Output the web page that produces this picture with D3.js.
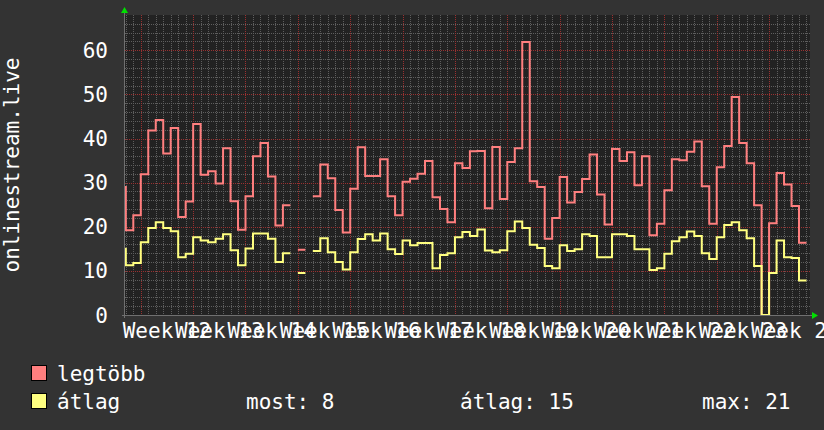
<!DOCTYPE html>
<html>
<head>
<meta charset="utf-8">
<script src="https://cdn.jsdelivr.net/npm/d3@7"></script>
<style>
  html, body { margin: 0; padding: 0; background: #333333; }
  svg { display: block; }
  text { font-family: "DejaVu Sans Mono", monospace; font-size: 21px; fill: #ffffff; }
</style>
</head>
<body>
<svg id="chart" width="824" height="430"></svg>
<script>
/*
** Data (one value per day, starting 3 days before the Monday of week 12)
*/
var firstDay = -3
  , legtobb = [29, 19.2, 22.6, 31.9, 41.8, 44.2, 36.6, 42.4, 22.2, 25.7,
      43.3, 31.8, 32.6, 29.8, 37.8, 25.8, 19.3, 26.9, 36.0, 39.0,
      31.4, 20.3, 24.9, NaN, 14.8, NaN, 26.9, 34.1, 31.0, 23.8,
      18.7, 28.6, 38.0, 31.5, 31.5, 35.3, 26.9, 22.6, 30.2, 30.9,
      32.0, 34.9, 26.7, 24.0, 21.0, 34.4, 33.3, 37.1, 37.2, 24.2,
      38.1, 26.3, 34.7, 37.8, 61.9, 30.3, 29.0, 17.3, 22.0, 31.3,
      25.5, 27.9, 30.8, 36.4, 27.3, 20.5, 37.6, 34.9, 36.9, 29.4,
      36.0, 18.1, 20.7, 28.3, 35.3, 35.1, 37.0, 39.3, 29.2, 20.7,
      33.5, 38.3, 49.4, 39.0, 34.4, 24.9, 0, 20.8, 32.2, 29.6,
      24.7, 16.4]
  , atlag = [15.0, 11.3, 11.8, 16.5, 19.7, 21.0, 19.7, 19.0, 13.1, 13.9,
      17.6, 16.9, 16.5, 17.3, 18.3, 14.7, 11.3, 15.1, 18.5, 18.5,
      17.3, 12.0, 14.0, NaN, 9.5, NaN, 14.5, 17.4, 14.2, 12.0,
      10.3, 14.2, 17.2, 18.3, 16.9, 18.5, 14.9, 13.8, 16.9, 15.8,
      16.3, 16.3, 10.6, 13.6, 14.0, 17.6, 18.8, 17.9, 19.4, 14.6,
      14.2, 14.7, 19.0, 21.2, 19.7, 15.9, 15.2, 11.1, 10.6, 15.8,
      14.5, 14.9, 18.3, 17.9, 13.1, 13.1, 18.3, 18.3, 17.9, 14.9,
      14.9, 10.2, 10.6, 13.9, 16.7, 17.6, 18.9, 17.9, 14.0, 12.7,
      17.6, 20.4, 21.0, 19.2, 17.4, 11.1, 0, 9.5, 16.9, 13.1,
      12.9, 7.8]
  , weekLabels = ["Week 12", "Week 13", "Week 14", "Week 15", "Week 16",
      "Week 17", "Week 18", "Week 19", "Week 20", "Week 21", "Week 22",
      "Week 23", "Week 24"]
  , yTicks = [0, 10, 20, 30, 40, 50, 60]
  , legendNames = ["legtöbb", "átlag"]
  , legendStats = ["most: 8", "átlag: 15", "max: 21"]
  , axisTitle = "onlinestream.live"
;

/*
** Layout
*/
var svg = d3.select("#chart")
  , pLeft = 125, pRight = 810, pTop = 15, pBottom = 315
  , x = d3.scaleLinear().domain([-2.11, 89.47]).range([pLeft, pRight])
  , y = d3.scaleLinear().domain([0, 68]).range([pBottom, pTop])
  , colors = ["#ff7f7f", "#ffff80"]
;

// plot canvas
svg.append("rect")
    .attr("x", pLeft).attr("y", pTop)
    .attr("width", pRight - pLeft).attr("height", pBottom - pTop)
    .attr("fill", "#222222");

svg.append("clipPath").attr("id", "plot")
  .append("rect")
    .attr("x", pLeft).attr("y", pTop)
    .attr("width", pRight - pLeft).attr("height", pBottom - pTop);

// grid: minor (daily / every 2) then major (weekly / every 10)
var grid = svg.append("g").attr("class", "grid");
var days = d3.range(Math.ceil(x.domain()[0]), Math.floor(x.domain()[1]) + 1);

function vline(sel, color) {
    sel.append("line")
        .attr("x1", function(d) { return Math.round(x(d)) + 0.5; })
        .attr("x2", function(d) { return Math.round(x(d)) + 0.5; })
        .attr("y1", pTop).attr("y2", pBottom)
        .attr("stroke", color).attr("stroke-dasharray", "1,1");
}
function hline(sel, color) {
    sel.append("line")
        .attr("x1", pLeft).attr("x2", pRight)
        .attr("y1", function(d) { return Math.round(y(d)) + 0.5; })
        .attr("y2", function(d) { return Math.round(y(d)) + 0.5; })
        .attr("stroke", color).attr("stroke-dasharray", "1,1");
}

grid.selectAll(".vminor")
    .data(days.filter(function(d) { return d % 7 !== 0; }))
  .enter().call(vline, "#5e5e5e");

grid.selectAll(".hminor")
    .data(d3.range(2, 68, 2).filter(function(d) { return d % 10 !== 0; }))
  .enter().call(hline, "#5e5e5e");

grid.selectAll(".vmajor")
    .data(days.filter(function(d) { return d % 7 === 0; }))
  .enter().call(vline, "#9a3030");

grid.selectAll(".hmajor")
    .data(yTicks.slice(1))
  .enter().call(hline, "#9a3030");

// axes lines and arrows
svg.append("line")
    .attr("x1", pLeft - 0.5).attr("x2", pLeft - 0.5)
    .attr("y1", pBottom + 3).attr("y2", pTop - 4)
    .attr("stroke", "#707070");
svg.append("line")
    .attr("x1", pLeft - 3).attr("x2", pRight + 3)
    .attr("y1", pBottom + 0.5).attr("y2", pBottom + 0.5)
    .attr("stroke", "#707070");
svg.append("path")
    .attr("d", "M" + (pLeft - 4) + "," + (pTop - 2) + "L" + (pLeft + 3) + "," + (pTop - 2) +
               "L" + (pLeft - 0.5) + "," + (pTop - 8) + "Z")
    .attr("fill", "#00e000");
svg.append("path")
    .attr("d", "M" + (pRight + 2) + "," + (pBottom - 3) + "L" + (pRight + 2) + "," + (pBottom + 4) +
               "L" + (pRight + 8) + "," + (pBottom + 0.5) + "Z")
    .attr("fill", "#00e000");

// y tick labels
svg.selectAll(".ylabel")
    .data(yTicks)
  .enter().append("text")
    .attr("x", 108)
    .attr("y", function(d) { return y(d); })
    .attr("dy", "0.36em")
    .attr("text-anchor", "end")
    .text(function(d) { return d; });

// week labels, centred on each week
svg.selectAll(".xlabel")
    .data(weekLabels)
  .enter().append("text")
    .attr("x", function(d, i) { return x(i * 7 + 3.5); })
    .attr("y", 338)
    .attr("text-anchor", "middle")
    .text(function(d) { return d; });

// vertical axis title
svg.append("text")
    .attr("transform", "translate(19," + ((pTop + pBottom) / 2) + ") rotate(-90)")
    .attr("text-anchor", "middle")
    .text(axisTitle);

/*
** Step lines
*/
function steps(values) {
    var pts = [];
    values.forEach(function(v, i) {
        var d = firstDay + i;
        pts.push([d, v], [d + 1, v]);
    });
    return pts;
} // steps()

var line = d3.line()
    .defined(function(p) { return !isNaN(p[1]); })
    .x(function(p) { return x(p[0]); })
    .y(function(p) { return y(p[1]); });

var series = svg.append("g").attr("clip-path", "url(#plot)");
[legtobb, atlag].forEach(function(values, i) {
    series.append("path")
        .attr("d", line(steps(values)))
        .attr("fill", "none")
        .attr("stroke", colors[i])
        .attr("stroke-width", 2)
        .attr("stroke-linejoin", "miter");
});

/*
** Legend
*/
var legend = svg.append("g");
legendNames.forEach(function(name, i) {
    var yy = 366 + i * 28;
    legend.append("rect")
        .attr("x", 31.5).attr("y", yy - 0.5)
        .attr("width", 15).attr("height", 15)
        .attr("fill", colors[i])
        .attr("stroke", "#000000");
    legend.append("text")
        .attr("x", 57).attr("y", yy + 15)
        .text(name);
});
[246, 460, 702].forEach(function(px, i) {
    legend.append("text")
        .attr("x", px).attr("y", 409)
        .text(legendStats[i]);
});
</script>
</body>
</html>
